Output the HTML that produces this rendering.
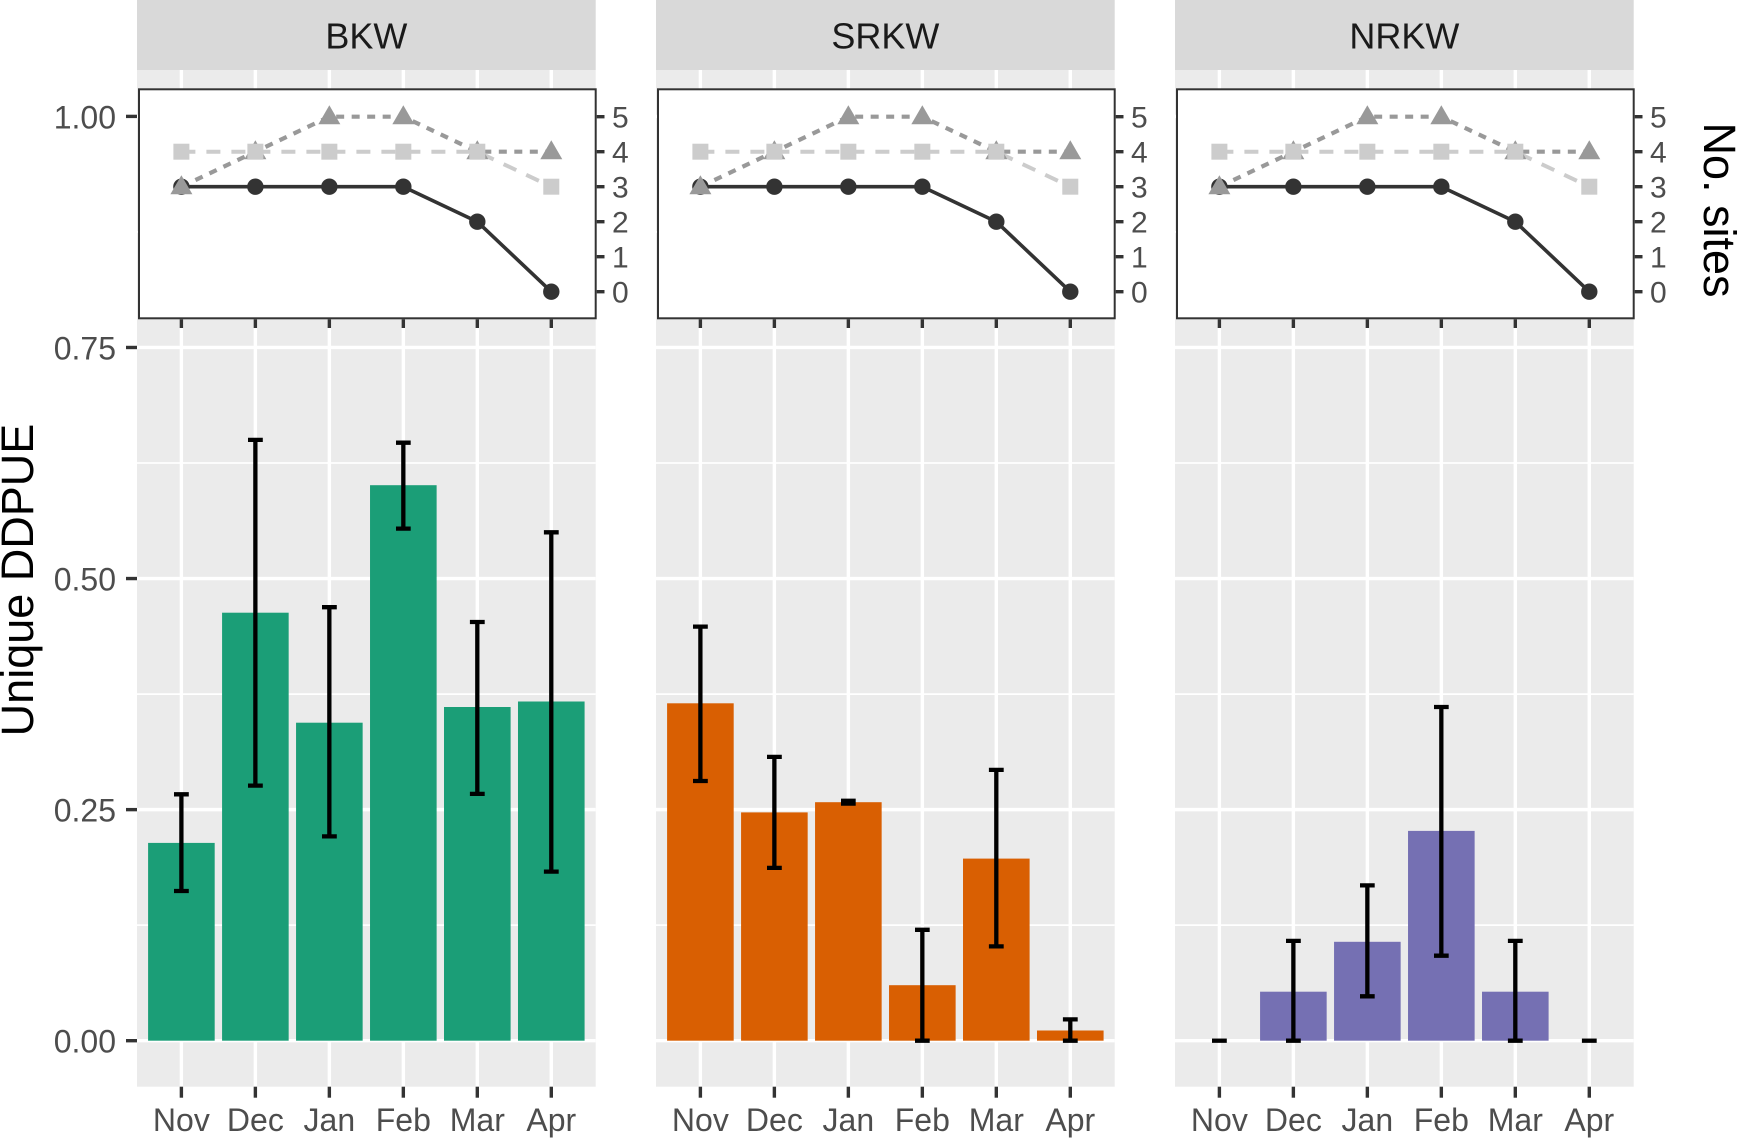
<!DOCTYPE html>
<html>
<head>
<meta charset="utf-8">
<style>
html,body{margin:0;padding:0;background:#fff;}
svg{display:block;}
text{font-family:"Liberation Sans",Arial,sans-serif;}
</style>
</head>
<body>
<svg width="1738" height="1139" viewBox="0 0 1738 1139" xmlns="http://www.w3.org/2000/svg">
<defs>
  <g id="base">
    <rect x="137" y="70" width="458.7" height="1016.7" fill="#EBEBEB"/>
    <g stroke="#FFFFFF" stroke-width="1.7">
      <line x1="137" x2="595.7" y1="925.16" y2="925.16"/>
      <line x1="137" x2="595.7" y1="694.09" y2="694.09"/>
      <line x1="137" x2="595.7" y1="463.01" y2="463.01"/>
      <line x1="137" x2="595.7" y1="231.94" y2="231.94"/>
    </g>
    <g stroke="#FFFFFF" stroke-width="3.4">
      <line x1="137" x2="595.7" y1="1040.7" y2="1040.7"/>
      <line x1="137" x2="595.7" y1="809.63" y2="809.63"/>
      <line x1="137" x2="595.7" y1="578.55" y2="578.55"/>
      <line x1="137" x2="595.7" y1="347.48" y2="347.48"/>
      <line x1="137" x2="595.7" y1="116.4" y2="116.4"/>
      <line x1="181.39" x2="181.39" y1="70" y2="1086.7"/>
      <line x1="255.37" x2="255.37" y1="70" y2="1086.7"/>
      <line x1="329.35" x2="329.35" y1="70" y2="1086.7"/>
      <line x1="403.33" x2="403.33" y1="70" y2="1086.7"/>
      <line x1="477.31" x2="477.31" y1="70" y2="1086.7"/>
      <line x1="551.29" x2="551.29" y1="70" y2="1086.7"/>
    </g>
    <rect x="137" y="0" width="458.7" height="70" fill="#D9D9D9"/>
    <g stroke="#333333" stroke-width="3.4">
      <line x1="181.39" x2="181.39" y1="1086.7" y2="1097.7"/>
      <line x1="255.37" x2="255.37" y1="1086.7" y2="1097.7"/>
      <line x1="329.35" x2="329.35" y1="1086.7" y2="1097.7"/>
      <line x1="403.33" x2="403.33" y1="1086.7" y2="1097.7"/>
      <line x1="477.31" x2="477.31" y1="1086.7" y2="1097.7"/>
      <line x1="551.29" x2="551.29" y1="1086.7" y2="1097.7"/>
    </g>
    <!-- inset -->
    <rect x="139" y="89.3" width="456.7" height="229" fill="#FFFFFF" stroke="#333333" stroke-width="2"/>
    <g stroke="#333333" stroke-width="3.4">
      <line x1="181.39" x2="181.39" y1="319.3" y2="328"/>
      <line x1="255.37" x2="255.37" y1="319.3" y2="328"/>
      <line x1="329.35" x2="329.35" y1="319.3" y2="328"/>
      <line x1="403.33" x2="403.33" y1="319.3" y2="328"/>
      <line x1="477.31" x2="477.31" y1="319.3" y2="328"/>
      <line x1="551.29" x2="551.29" y1="319.3" y2="328"/>
      <line x1="596.7" x2="604.5" y1="116.7" y2="116.7"/>
      <line x1="596.7" x2="604.5" y1="151.7" y2="151.7"/>
      <line x1="596.7" x2="604.5" y1="186.7" y2="186.7"/>
      <line x1="596.7" x2="604.5" y1="221.7" y2="221.7"/>
      <line x1="596.7" x2="604.5" y1="256.7" y2="256.7"/>
      <line x1="596.7" x2="604.5" y1="291.7" y2="291.7"/>
    </g>
    <!-- lines -->
    <polyline points="181.39,186.7 255.37,186.7 329.35,186.7 403.33,186.7 477.31,221.7 551.29,291.7" fill="none" stroke="#333333" stroke-width="3.6" stroke-linejoin="round"/>
    <polyline points="181.39,186.7 255.37,151.7 329.35,116.7 403.33,116.7 477.31,151.7 551.29,151.7" fill="none" stroke="#999999" stroke-width="4.2" stroke-dasharray="8 7.5"/>
    <polyline points="181.39,151.7 255.37,151.7 329.35,151.7 403.33,151.7 477.31,151.7 551.29,186.7" fill="none" stroke="#CCCCCC" stroke-width="4" stroke-dasharray="14 11"/>
    <!-- circles -->
    <g fill="#333333">
      <circle cx="181.39" cy="186.7" r="8.2"/>
      <circle cx="255.37" cy="186.7" r="8.2"/>
      <circle cx="329.35" cy="186.7" r="8.2"/>
      <circle cx="403.33" cy="186.7" r="8.2"/>
      <circle cx="477.31" cy="221.7" r="8.2"/>
      <circle cx="551.29" cy="291.7" r="8.2"/>
    </g>
    <!-- triangles -->
    <g fill="#999999">
      <polygon points="181.39,175.2 170.39,194.2 192.39,194.2"/>
      <polygon points="255.37,140.2 244.37,159.2 266.37,159.2"/>
      <polygon points="329.35,105.2 318.35,124.2 340.35,124.2"/>
      <polygon points="403.33,105.2 392.33,124.2 414.33,124.2"/>
      <polygon points="477.31,140.2 466.31,159.2 488.31,159.2"/>
      <polygon points="551.29,140.2 540.29,159.2 562.29,159.2"/>
    </g>
    <!-- squares -->
    <g fill="#CCCCCC">
      <rect x="173.39" y="143.7" width="16" height="16"/>
      <rect x="247.37" y="143.7" width="16" height="16"/>
      <rect x="321.35" y="143.7" width="16" height="16"/>
      <rect x="395.33" y="143.7" width="16" height="16"/>
      <rect x="469.31" y="143.7" width="16" height="16"/>
      <rect x="543.29" y="178.7" width="16" height="16"/>
    </g>
  </g>
</defs>

<use href="#base"/>
<use href="#base" transform="translate(519,0)"/>
<use href="#base" transform="translate(1038,0)"/>

<!-- Left axis ticks -->
<g stroke="#333333" stroke-width="3.4">
  <line x1="126" x2="137" y1="1040.7" y2="1040.7"/>
  <line x1="126" x2="137" y1="809.63" y2="809.63"/>
  <line x1="126" x2="137" y1="578.55" y2="578.55"/>
  <line x1="126" x2="137" y1="347.48" y2="347.48"/>
  <line x1="126" x2="137" y1="116.4" y2="116.4"/>
</g>
<g font-size="32" fill="#4D4D4D" text-anchor="end">
  <text x="116" y="128.4">1.00</text>
  <text x="116" y="359.5">0.75</text>
  <text x="116" y="590.5">0.50</text>
  <text x="116" y="821.6">0.25</text>
  <text x="116" y="1052.7">0.00</text>
</g>

<!-- Bars BKW -->
<g fill="#1B9E77">
  <rect x="148.09" y="842.9" width="66.6" height="197.8"/>
  <rect x="222.07" y="612.7" width="66.6" height="428"/>
  <rect x="296.05" y="722.7" width="66.6" height="318"/>
  <rect x="370.03" y="485.2" width="66.6" height="555.5"/>
  <rect x="444.01" y="707.0" width="66.6" height="333.7"/>
  <rect x="517.99" y="701.5" width="66.6" height="339.2"/>
</g>
<!-- Bars SRKW -->
<g fill="#D95F02">
  <rect x="667.09" y="703.3" width="66.6" height="337.4"/>
  <rect x="741.07" y="812.4" width="66.6" height="228.3"/>
  <rect x="815.05" y="802.2" width="66.6" height="238.5"/>
  <rect x="889.03" y="985.2" width="66.6" height="55.5"/>
  <rect x="963.01" y="858.6" width="66.6" height="182.1"/>
  <rect x="1036.99" y="1030.5" width="66.6" height="10.2"/>
</g>
<!-- Bars NRKW -->
<g fill="#7570B3">
  <rect x="1260.07" y="991.7" width="66.6" height="49"/>
  <rect x="1334.05" y="941.8" width="66.6" height="98.9"/>
  <rect x="1408.03" y="830.9" width="66.6" height="209.8"/>
  <rect x="1482.01" y="991.7" width="66.6" height="49"/>
</g>

<!-- Error bars -->
<g stroke="#000000" stroke-width="4.3" fill="none" stroke-linecap="butt">
  <path d="M181.39 794.3V891.0M174 794.3H188.8M174 891.0H188.8"/>
  <path d="M255.37 439.9V785.6M248 439.9H262.8M248 785.6H262.8"/>
  <path d="M329.35 607.2V836.4M322 607.2H336.8M322 836.4H336.8"/>
  <path d="M403.33 442.7V528.6M396 442.7H410.7M396 528.6H410.7"/>
  <path d="M477.31 622.0V793.9M469.9 622.0H484.7M469.9 793.9H484.7"/>
  <path d="M551.29 532.3V871.6M543.9 532.3H558.7M543.9 871.6H558.7"/>

  <path d="M700.39 626.6V781.0M693 626.6H707.8M693 781.0H707.8"/>
  <path d="M774.37 756.9V867.9M767 756.9H781.8M767 867.9H781.8"/>
  <path d="M848.35 800.8V803.6M841 800.8H855.7M841 803.6H855.7"/>
  <path d="M922.33 929.8V1040.7M915 929.8H929.7M915 1040.7H929.7"/>
  <path d="M996.31 769.9V946.4M988.9 769.9H1003.7M988.9 946.4H1003.7"/>
  <path d="M1070.29 1019.4V1040.7M1062.9 1019.4H1077.7M1062.9 1040.7H1077.7"/>

  <path d="M1212 1040.7H1226.8"/>
  <path d="M1293.37 940.9V1040.7M1286 940.9H1300.8M1286 1040.7H1300.8"/>
  <path d="M1367.35 885.4V996.3M1360 885.4H1374.7M1360 996.3H1374.7"/>
  <path d="M1441.33 707.0V955.7M1434 707.0H1448.7M1434 955.7H1448.7"/>
  <path d="M1515.31 940.9V1040.7M1507.9 940.9H1522.7M1507.9 1040.7H1522.7"/>
  <path d="M1581.9 1040.7H1596.7"/>
</g>

<!-- Strip labels -->
<g font-size="36" fill="#1A1A1A" text-anchor="middle">
  <text x="366.35" y="48.5">BKW</text>
  <text x="885.35" y="48.5">SRKW</text>
  <text x="1404.35" y="48.5">NRKW</text>
</g>

<!-- Right inset axis labels -->
<g font-size="30" fill="#4D4D4D" text-anchor="start">
  <text x="612" y="127.5">5</text><text x="612" y="162.5">4</text><text x="612" y="197.5">3</text>
  <text x="612" y="232.5">2</text><text x="612" y="267.5">1</text><text x="612" y="302.5">0</text>
  <text x="1131" y="127.5">5</text><text x="1131" y="162.5">4</text><text x="1131" y="197.5">3</text>
  <text x="1131" y="232.5">2</text><text x="1131" y="267.5">1</text><text x="1131" y="302.5">0</text>
  <text x="1650" y="127.5">5</text><text x="1650" y="162.5">4</text><text x="1650" y="197.5">3</text>
  <text x="1650" y="232.5">2</text><text x="1650" y="267.5">1</text><text x="1650" y="302.5">0</text>
</g>

<!-- X labels -->
<g font-size="32" fill="#4D4D4D" text-anchor="middle">
  <text x="181.39" y="1131">Nov</text><text x="255.37" y="1131">Dec</text><text x="329.35" y="1131">Jan</text>
  <text x="403.33" y="1131">Feb</text><text x="477.31" y="1131">Mar</text><text x="551.29" y="1131">Apr</text>
  <text x="700.39" y="1131">Nov</text><text x="774.37" y="1131">Dec</text><text x="848.35" y="1131">Jan</text>
  <text x="922.33" y="1131">Feb</text><text x="996.31" y="1131">Mar</text><text x="1070.29" y="1131">Apr</text>
  <text x="1219.39" y="1131">Nov</text><text x="1293.37" y="1131">Dec</text><text x="1367.35" y="1131">Jan</text>
  <text x="1441.33" y="1131">Feb</text><text x="1515.31" y="1131">Mar</text><text x="1589.29" y="1131">Apr</text>
</g>

<!-- Axis titles -->
<text x="0" y="0" font-size="45" fill="#000000" text-anchor="middle" transform="translate(33,580) rotate(-90)">Unique DDPUE</text>
<text x="0" y="0" font-size="45" fill="#000000" text-anchor="middle" transform="translate(1704,210) rotate(90)">No. sites</text>
</svg>
</body>
</html>
